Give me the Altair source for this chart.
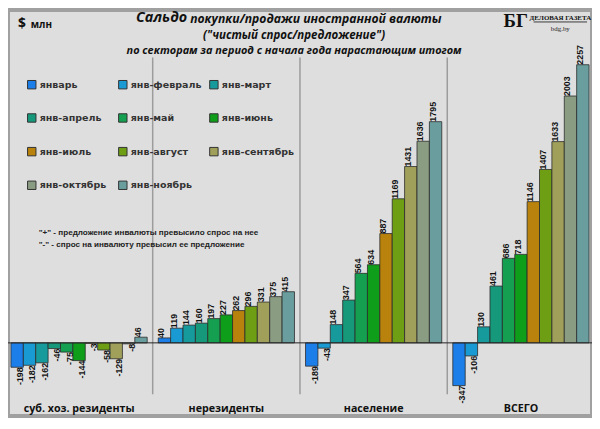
import altair as alt
import pandas as pd

categories = ["суб. хоз. резиденты", "нерезиденты", "население", "ВСЕГО"]
months = ["январь", "янв-февраль", "янв-март", "янв-апрель", "янв-май", "янв-июнь",
          "янв-июль", "янв-август", "янв-сентябрь", "янв-октябрь", "янв-ноябрь"]
colors = ["#1c7ee8", "#1a9ad2", "#179a9c", "#16987a", "#14a050", "#0f9e1a",
          "#b8820c", "#6e9e14", "#a0a05a", "#8a9c82", "#6a9e9e"]

residents = [-198, -182, -162, -46, -75, -144, -3, -58, -129, -8, 46]
nonresidents = [40, 119, 144, 160, 197, 227, 262, 296, 331, 375, 415]
population = [-189, -43, 148, 347, 564, 634, 887, 1169, 1431, 1636, 1795]
total = [-347, -106, 130, 461, 686, 718, 1146, 1407, 1633, 2003, 2257]

title1a = "Сальдо"
title1b = "покупки/продажи  иностранной  валюты"
title2 = "(\"чистый спрос/предложение\")"
title3 = "по секторам за период с начала года нарастающим итогом"
note1 = "\"+\" - предложение инвалюты превысило спрос на нее"
note2 = "\"-\" - спрос на инвалюту превысил ее предложение"

rows = []
for cat, vals in zip(categories, [residents, nonresidents, population, total]):
    for m, v in zip(months, vals):
        rows.append({"cat": cat, "month": m, "value": v, "label": str(v)})
df = pd.DataFrame(rows)

W, H = 590, 410
xs = alt.Scale(domain=categories, paddingInner=0.075, paddingOuter=0.02)
xo = alt.Scale(domain=months, paddingInner=0, paddingOuter=0)
ys = alt.Scale(domain=[-592.8, 2700.4], nice=False, zero=True)

X = alt.X("cat:N", scale=xs, axis=None)
XO = alt.XOffset("month:N", scale=xo)
Y = alt.Y("value:Q", scale=ys, axis=None, stack=None)

legend = alt.Legend(title=None, orient="none", legendX=19, legendY=70, columns=3,
                    direction="horizontal",
                    symbolType="square", symbolSize=72, symbolStrokeColor="#333",
                    symbolStrokeWidth=1, labelFont="DejaVu Sans", labelFontSize=9.6,
                    labelFontWeight="bold", labelColor="#333", rowPadding=20,
                    columnPadding=3, gridAlign="all", labelOffset=3, padding=0,
                    symbolOffset=0, offset=0, labelLimit=200)

base = alt.Chart(df)
bars = base.mark_bar(stroke="#2b2b2b", strokeWidth=0.8).encode(
    x=X, xOffset=XO, y=Y,
    color=alt.Color("month:N", scale=alt.Scale(domain=months, range=colors), legend=legend),
)
lab_kw = dict(angle=270, baseline="middle", font="Liberation Sans", fontSize=9,
              fontWeight="bold", color="#111")
pos = base.transform_filter("datum.value >= 0").mark_text(align="left", dy=-3, **lab_kw).encode(
    x=X, xOffset=XO, y=Y, text="label:N")
neg = base.transform_filter("datum.value < 0").mark_text(align="right", dy=3, **lab_kw).encode(
    x=X, xOffset=XO, y=Y, text="label:N")

div = alt.Chart(pd.DataFrame({"cat": categories[1:]})).mark_rule(
    color="#9c9c9c", strokeWidth=1.5, xOffset=-5.6).encode(
    x=alt.X("cat:N", scale=xs, axis=None, bandPosition=0),
    y=alt.value(48), y2=alt.value(388))

zero = alt.Chart(pd.DataFrame({"v": [0]})).mark_rule(color="#222", strokeWidth=1).encode(
    y=alt.Y("v:Q", scale=ys, axis=None), x=alt.value(0), x2=alt.value(W))

catlab = alt.Chart(pd.DataFrame({"cat": categories})).mark_text(
    font="Open Sans", fontSize=10.8, fontWeight="bold", color="#111", baseline="middle").encode(
    x=alt.X("cat:N", scale=xs, axis=None), y=alt.value(403), text="cat:N")


def txt(s, x, y, **kw):
    return alt.Chart(pd.DataFrame({"t": [s]})).mark_text(baseline="middle", **kw).encode(
        x=alt.value(x), y=alt.value(y), text="t:N")


tf = dict(font="Open Sans", fontWeight="bold", fontStyle="italic", color="#111")
texts = [
    txt(title1a, 181, 8.5, align="right", fontSize=14.5, **tf),
    txt(title1b, 184, 9.5, align="left", fontSize=12.3, **tf),
    txt(title2, 289, 26.5, align="center", fontSize=11.6, **tf),
    txt(title3, 289, 41.5, align="center", fontSize=11, **tf),
    txt("$", 10, 14, align="left", fontSize=14, font="Open Sans", fontWeight="bold", color="#111"),
    txt("млн", 23, 15, align="left", fontSize=10, font="Open Sans", fontWeight="bold", color="#111"),
    txt("БГ", 513, 11, align="center", fontSize=19, font="Liberation Serif", fontWeight="bold", color="#111"),
    txt("ДЕЛОВАЯ ГАЗЕТА", 558, 8, align="center", fontSize=7, font="Liberation Serif", fontWeight="bold", color="#111"),
    txt("bdg.by", 558, 19, align="center", fontSize=7, font="Liberation Serif", color="#222"),
    txt(note1, 31, 225.5, align="left", fontSize=8.2, font="Liberation Sans", fontWeight="bold", color="#222"),
    txt(note2, 31, 237.5, align="left", fontSize=8.2, font="Liberation Sans", fontWeight="bold", color="#222"),
]
underline = alt.Chart(pd.DataFrame({"v": [0]})).mark_rule(color="#111", strokeWidth=0.8).encode(
    x=alt.value(531), x2=alt.value(585), y=alt.value(12))

chart = alt.layer(div, bars, zero, pos, neg, catlab, underline, *texts).properties(
    width=W, height=H, padding=0, autosize=alt.AutoSizeParams(type="none"),
    background="#dedede",
).configure_view(fill="#dedede", stroke="#a0a0a0", strokeWidth=4)

chart.save("out.html", embed_options={"renderer": "svg", "actions": False})
